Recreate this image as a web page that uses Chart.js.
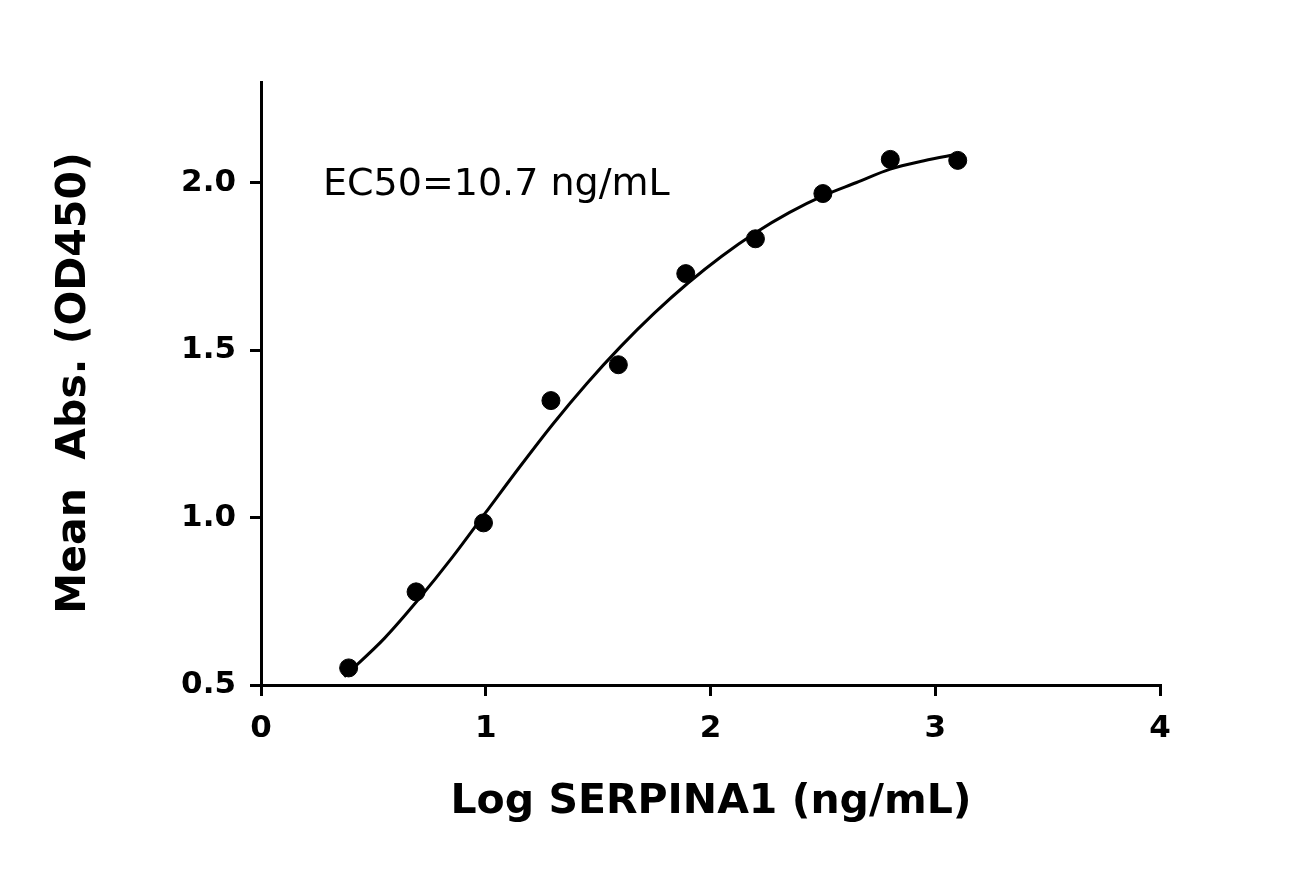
<!DOCTYPE html>
<html><head><meta charset="utf-8">
<script src="https://cdn.jsdelivr.net/npm/chart.js@4/dist/chart.umd.min.js"></script>
<style>html,body{margin:0;padding:0;background:#fff}#w{width:1299px;height:870px}</style>
</head><body><div id="w"><canvas id="c"></canvas></div>
<script>
const pointX = [0.39, 0.69, 0.99, 1.29, 1.59, 1.89, 2.20, 2.50, 2.80, 3.10];
const pointY = [0.551, 0.778, 0.984, 1.349, 1.456, 1.728, 1.832, 1.967, 2.069, 2.066];
const curveX = [0.37, 0.55, 0.7, 0.85, 1.0, 1.15, 1.3, 1.45, 1.6, 1.75, 1.9, 2.05, 2.2, 2.35, 2.5, 2.65, 2.8, 2.95, 3.1];
const curveY = [0.525, 0.64, 0.755, 0.88, 1.015, 1.15, 1.28, 1.40, 1.51, 1.61, 1.70, 1.78, 1.85, 1.91, 1.96, 2.00, 2.04, 2.065, 2.085];
const xTicks = [0, 1, 2, 3, 4];
const yTicks = [0.5, 1.0, 1.5, 2.0];
const xTitle = 'Log SERPINA1 (ng/mL)';
const yTitle = 'Mean  Abs. (OD450)';
const note = 'EC50=10.7 ng/mL';

const F = '"DejaVu Sans", sans-serif';
const textPlugin = {
  id: 'texts',
  afterDraw(ch) {
    const c = ch.ctx, a = ch.chartArea;
    c.save();
    c.fillStyle = '#000';
    c.font = 'bold 41px ' + F;
    c.textAlign = 'center'; c.textBaseline = 'middle';
    c.fillText(xTitle, 711, 802);
    c.translate(74, 383);
    c.rotate(-Math.PI / 2);
    c.fillText(yTitle, 0, 0);
    c.restore();
    c.save();
    c.fillStyle = '#000';
    c.font = '38px ' + F;
    c.textAlign = 'left'; c.textBaseline = 'middle';
    c.fillText(note, 323, 185);
    c.restore();
  }
};
const axisCommon = {
  grid: { drawOnChartArea: false, drawTicks: true, tickLength: 11, lineWidth: 3, color: '#000' },
  border: { width: 3, color: '#000' },
  ticks: { color: '#000', font: { family: F, size: 31, weight: 'bold' } }
};
new Chart(document.getElementById('c'), {
  type: 'scatter',
  data: { datasets: [
    { type: 'line', data: curveX.map((x, i) => ({ x, y: curveY[i] })), borderColor: '#000', borderWidth: 3, pointRadius: 0, cubicInterpolationMode: 'monotone', fill: false },
    { data: pointX.map((x, i) => ({ x, y: pointY[i] })), backgroundColor: '#000', borderColor: '#000', pointRadius: 9 }
  ]},
  plugins: [textPlugin],
  options: {
    responsive: true, maintainAspectRatio: false, animation: false,
    layout: { padding: { top: 82, right: 139, left: 0, bottom: 0 } },
    plugins: { legend: { display: false }, tooltip: { enabled: false } },
    scales: {
      x: { ...axisCommon, type: 'linear', min: 0, max: 4,
        ticks: { ...axisCommon.ticks, stepSize: 1, padding: 14 },
        afterBuildTicks: s => { s.ticks = xTicks.map(v => ({ value: v })); },
        afterFit: s => { s.height = 185; } },
      y: { ...axisCommon, type: 'linear', min: 0.5, max: 2.3,
        ticks: { ...axisCommon.ticks, padding: 14, callback: v => v.toFixed(1) },
        afterBuildTicks: s => { s.ticks = yTicks.map(v => ({ value: v })); },
        afterFit: s => { s.width = 261; } }
    }
  }
});
</script></body></html>
